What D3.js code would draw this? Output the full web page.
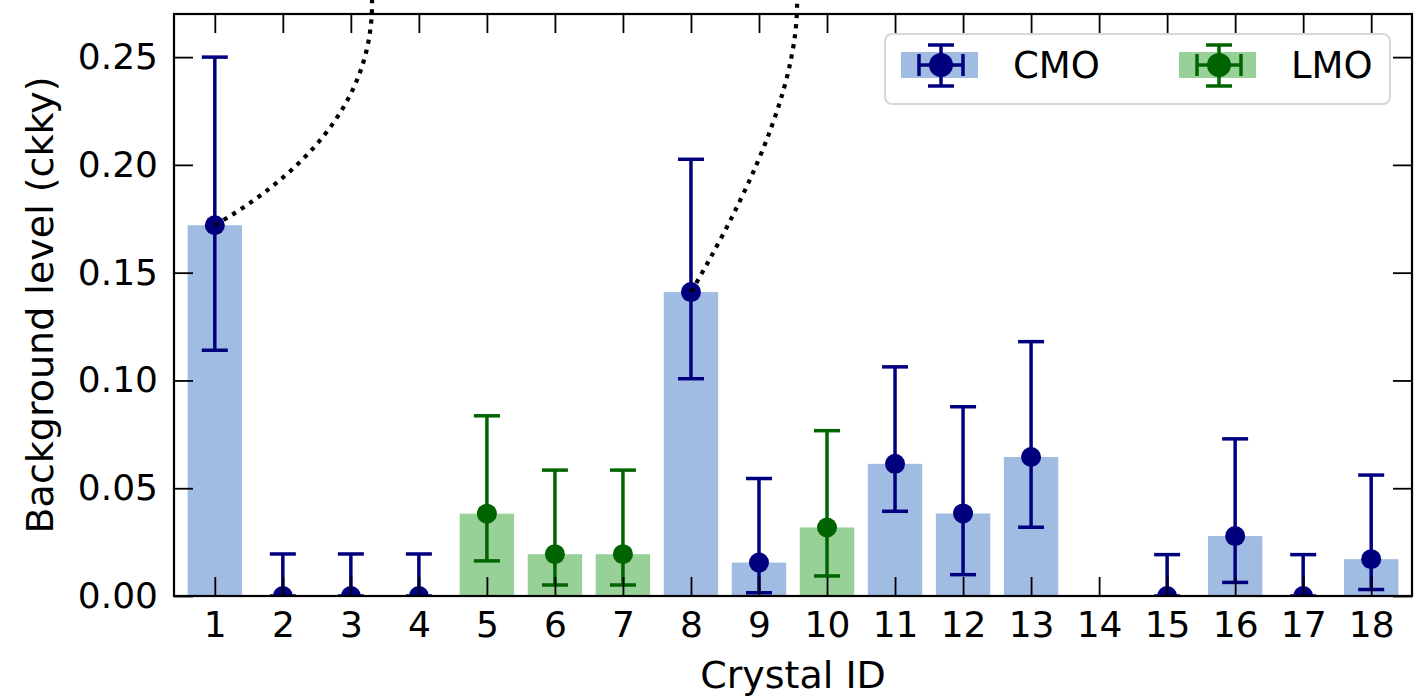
<!DOCTYPE html>
<html>
<head>
<meta charset="utf-8">
<script src="https://cdn.jsdelivr.net/npm/d3@7"></script>
<style>
    body { margin: 0; background: #fff; }
    svg { display: block; font-family: 'DejaVu Sans', sans-serif; }
</style>
</head>
<body>
<div id="chart"></div>
<script>
var crystalIds = [1, 2, 3, 4, 5, 6, 7, 8, 9, 10, 11, 12, 13, 14, 15, 16, 17, 18];
var material = ['CMO', 'CMO', 'CMO', 'CMO', 'LMO', 'LMO', 'LMO', 'CMO', 'CMO', 'LMO',
    'CMO', 'CMO', 'CMO', null, 'CMO', 'CMO', 'CMO', 'CMO'];
var bgLevel = [0.172, 0, 0, 0, 0.0382, 0.0194, 0.0194, 0.141, 0.0155, 0.0318,
    0.0613, 0.0383, 0.0645, null, 0, 0.0278, 0, 0.0171];
var errLow = [0.114, 0, 0, 0, 0.0163, 0.0051, 0.0051, 0.1008, 0.0015, 0.0093,
    0.0393, 0.0099, 0.0319, null, 0, 0.0063, 0, 0.003];
var errHigh = [0.250, 0.0195, 0.0195, 0.0195, 0.0836, 0.0584, 0.0584, 0.2026, 0.0545, 0.0767,
    0.1063, 0.0878, 0.118, null, 0.0192, 0.0729, 0.0192, 0.0561];
var yTicks = [0, 0.05, 0.10, 0.15, 0.20, 0.25];
var seriesNames = ['CMO', 'LMO'];

// dotted zoom-out links (data units): start point id, control point, end point
var linkFrom = [1, 8];
var linkCtrlX = [3.355, 9.603];
var linkCtrlY = [0.2153, 0.2273];
var linkEndX = [3.311, 9.559];
var linkEndY = [0.2775, 0.2775];

var barColor = { CMO: '#a0bce3', LMO: '#98d198' };
var markColor = { CMO: '#00007f', LMO: '#006400' };

var W = 1421, H = 697;
var margin = { top: 14, right: 9, bottom: 101, left: 174 };
var innerX0 = margin.left, innerX1 = W - margin.right;
var innerY0 = margin.top, innerY1 = H - margin.bottom;

var rows = crystalIds.map(function (id, i) {
    return { id: id, mat: material[i], v: bgLevel[i], lo: errLow[i], hi: errHigh[i] };
}).filter(function (d) { return d.mat !== null; });

var xScale = d3.scaleLinear().domain([0.4, 18.6]).range([innerX0, innerX1]);
var yScale = d3.scaleLinear().domain([0, 0.27]).range([innerY1, innerY0]);
var barW = xScale(0.8) - xScale(0);

var svg = d3.select('#chart').append('svg')
    .attr('width', W)
    .attr('height', H);

svg.append('clipPath').attr('id', 'plotclip')
    .append('rect')
    .attr('x', innerX0).attr('y', innerY0)
    .attr('width', innerX1 - innerX0).attr('height', innerY1 - innerY0);

var plot = svg.append('g').attr('clip-path', 'url(#plotclip)');

plot.selectAll('rect.bar').data(rows)
    .enter().append('rect')
    .attr('class', 'bar')
    .attr('x', function (d) { return xScale(d.id) - barW / 2; })
    .attr('width', barW)
    .attr('y', function (d) { return yScale(d.v); })
    .attr('height', function (d) { return yScale(0) - yScale(d.v); })
    .style('fill', function (d) { return barColor[d.mat]; });

var capW = 13;
var errG = plot.selectAll('g.err').data(rows)
    .enter().append('g')
    .attr('class', 'err')
    .style('stroke', function (d) { return markColor[d.mat]; })
    .style('stroke-width', 3.5);

errG.append('line')
    .attr('x1', function (d) { return xScale(d.id); })
    .attr('x2', function (d) { return xScale(d.id); })
    .attr('y1', function (d) { return yScale(d.lo); })
    .attr('y2', function (d) { return yScale(d.hi); });
errG.append('line')
    .attr('x1', function (d) { return xScale(d.id) - capW; })
    .attr('x2', function (d) { return xScale(d.id) + capW; })
    .attr('y1', function (d) { return yScale(d.hi); })
    .attr('y2', function (d) { return yScale(d.hi); });
errG.append('line')
    .attr('x1', function (d) { return xScale(d.id) - capW; })
    .attr('x2', function (d) { return xScale(d.id) + capW; })
    .attr('y1', function (d) { return yScale(d.lo); })
    .attr('y2', function (d) { return yScale(d.lo); });

plot.selectAll('circle.mark').data(rows)
    .enter().append('circle')
    .attr('class', 'mark')
    .attr('cx', function (d) { return xScale(d.id); })
    .attr('cy', function (d) { return yScale(d.v); })
    .attr('r', 10)
    .style('fill', function (d) { return markColor[d.mat]; });

// axes, ticks pointing inwards on all four sides
var tickLen = 19;
function styleAxis(g) {
    g.select('.domain').remove();
    g.selectAll('line').style('stroke', '#000').style('stroke-width', 1.8);
    g.selectAll('text').style('font-size', '36px').style('fill', '#000')
        .style('font-family', "'DejaVu Sans', sans-serif");
}

svg.append('g')
    .attr('transform', 'translate(0,' + innerY1 + ')')
    .call(d3.axisBottom(xScale).tickValues(crystalIds).tickFormat(d3.format('d'))
        .tickSizeInner(-tickLen).tickSizeOuter(0).tickPadding(15))
    .call(styleAxis);
svg.append('g')
    .attr('transform', 'translate(0,' + innerY0 + ')')
    .call(d3.axisTop(xScale).tickValues(crystalIds).tickFormat('')
        .tickSizeInner(-tickLen).tickSizeOuter(0))
    .call(styleAxis);
svg.append('g')
    .attr('transform', 'translate(' + innerX0 + ',0)')
    .call(d3.axisLeft(yScale).tickValues(yTicks).tickFormat(d3.format('.2f'))
        .tickSizeInner(-tickLen).tickSizeOuter(0).tickPadding(16))
    .call(styleAxis);
svg.append('g')
    .attr('transform', 'translate(' + innerX1 + ',0)')
    .call(d3.axisRight(yScale).tickValues(yTicks).tickFormat('')
        .tickSizeInner(-tickLen).tickSizeOuter(0))
    .call(styleAxis);

svg.append('rect')
    .attr('x', innerX0).attr('y', innerY0)
    .attr('width', innerX1 - innerX0).attr('height', innerY1 - innerY0)
    .style('fill', 'none')
    .style('stroke', '#000')
    .style('stroke-width', 2.2);

svg.append('text')
    .attr('x', (innerX0 + innerX1) / 2)
    .attr('y', 688)
    .attr('text-anchor', 'middle')
    .style('font-size', '38px')
    .text('Crystal ID');

svg.append('text')
    .attr('transform', 'translate(53,' + (innerY0 + innerY1) / 2 + ') rotate(-90)')
    .attr('text-anchor', 'middle')
    .style('font-size', '38px')
    .text('Background level (ckky)');

// dotted links to the zoomed views
linkFrom.forEach(function (id, i) {
    var p = d3.path();
    p.moveTo(xScale(id), yScale(bgLevel[crystalIds.indexOf(id)]));
    p.quadraticCurveTo(xScale(linkCtrlX[i]), yScale(linkCtrlY[i]),
        xScale(linkEndX[i]), yScale(linkEndY[i]));
    svg.append('path')
        .attr('d', p.toString())
        .style('fill', 'none')
        .style('stroke', '#000')
        .style('stroke-width', 4.2)
        .style('stroke-dasharray', '4.2,6');
});

// legend
var legend = svg.append('g');
legend.append('rect')
    .attr('x', 885).attr('y', 34)
    .attr('width', 505).attr('height', 70)
    .attr('rx', 7)
    .style('fill', '#fff')
    .style('fill-opacity', 0.8)
    .style('stroke', '#d8d8d8')
    .style('stroke-width', 2);

var item = legend.selectAll('g.item').data(seriesNames)
    .enter().append('g')
    .attr('class', 'item')
    .attr('transform', function (d, i) { return 'translate(' + (901 + i * 278) + ',0)'; });

item.append('rect')
    .attr('x', 0).attr('y', 52)
    .attr('width', 77).attr('height', 26)
    .style('fill', function (d) { return barColor[d]; });

var handle = item.append('g')
    .style('stroke', function (d) { return markColor[d]; })
    .style('stroke-width', 3.5);
handle.append('line').attr('x1', 40).attr('x2', 40).attr('y1', 45).attr('y2', 86);
handle.append('line').attr('x1', 27).attr('x2', 53).attr('y1', 45).attr('y2', 45);
handle.append('line').attr('x1', 27).attr('x2', 53).attr('y1', 86).attr('y2', 86);
handle.append('line').attr('x1', 18).attr('x2', 62).attr('y1', 65).attr('y2', 65);
handle.append('line').attr('x1', 18).attr('x2', 18).attr('y1', 54).attr('y2', 76);
handle.append('line').attr('x1', 62).attr('x2', 62).attr('y1', 54).attr('y2', 76);

item.append('circle')
    .attr('cx', 40).attr('cy', 65).attr('r', 12)
    .style('fill', function (d) { return markColor[d]; });

item.append('text')
    .attr('x', 112).attr('y', 78)
    .style('font-size', '37px')
    .text(function (d) { return d; });
</script>
</body>
</html>
